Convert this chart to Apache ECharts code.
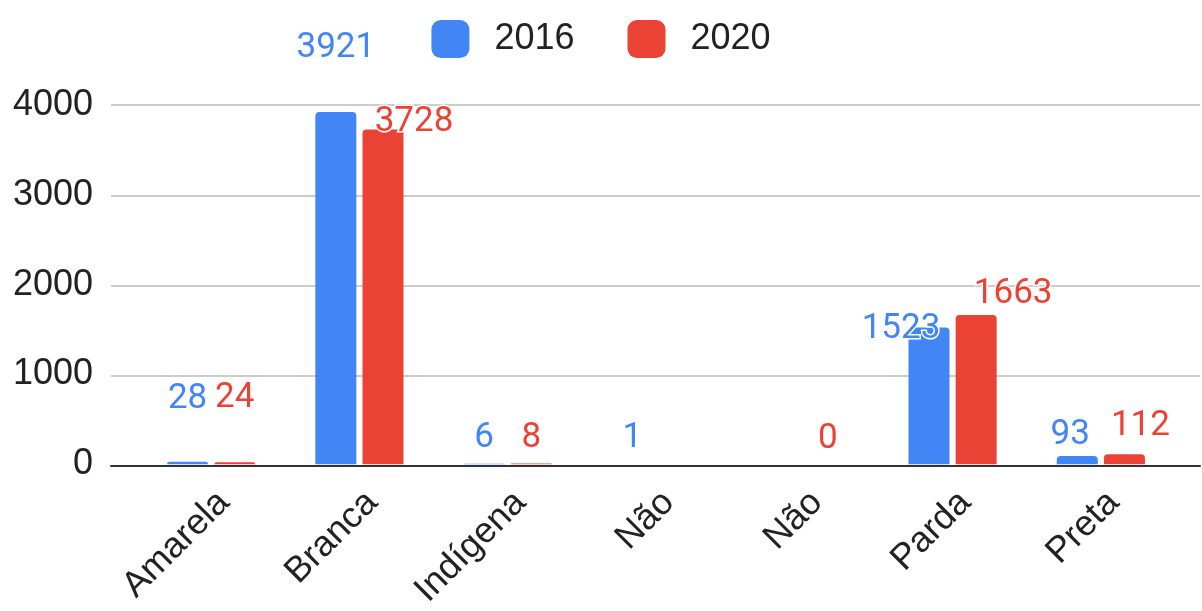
<!DOCTYPE html>
<html>
<head>
<meta charset="utf-8">
<script src="https://cdn.jsdelivr.net/npm/echarts@6/dist/echarts.min.js"></script>
<style>
  html, body { margin: 0; padding: 0; background: #fff; }
  #chart { width: 1202px; height: 611px; }
</style>
</head>
<body>
<div id="chart"></div>
<script>
   // ======数据======
   var categories = ['Amarela', 'Branca', 'Indígena', 'Não', 'Não', 'Parda', 'Preta'];
   var values2016 = [28, 3921, 6, 1, null, 1523, 93];
   var values2020 = [24, 3728, 8, null, 0, 1663, 112];
   var yTicks = [0, 1000, 2000, 3000, 4000];

   // 标签微调 (Google图表的标签避让)
   var nudge2016 = { 0: [0, -37], 1: [0, -38], 5: [-28, 27], 6: [-7, 5] };
   var nudge2020 = { 0: [0, -38], 1: [31, 18], 5: [37, 5], 6: [16, -3] };

   var blue = '#4285F4';
   var red = '#EA4335';
   var axisFont = '"Liberation Sans", Arial, sans-serif';
   var labelFont = 'Roboto, Arial, sans-serif';

   function buildData(values, nudge) {
      var out = [];
      for (var i = 0; i < values.length; i++) {
         var item = { value: values[i] === null ? '-' : values[i] };
         if (nudge[i]) {
            item.label = { offset: nudge[i] };
         }
         out.push(item);
      }
      return out;
   }

   function barLabel(color) {
      return {
         show: true,
         position: 'top',
         distance: 8,
         color: color,
         fontSize: 35,
         fontFamily: labelFont,
         textBorderColor: '#fff',
         textBorderWidth: 3
      };
   }

   var chart = echarts.init(document.getElementById('chart'));
   var option = {
      animation: false,
      color: [blue, red],
      legend: {
         top: 15,
         left: 'center',
         itemWidth: 38,
         itemHeight: 38,
         itemGap: 53,
         icon: 'roundRect',
         textStyle: { fontSize: 36, fontFamily: axisFont, color: '#222', padding: [0, 0, 0, 20] },
         data: ['2016', '2020']
      },
      grid: [
         { left: 137, right: 27, top: 105, bottom: 145 },   // 柱子
         { left: 111, right: 2, top: 105, bottom: 145 }     // 网格线
      ],
      xAxis: [
         {
            type: 'category',
            gridIndex: 0,
            data: categories,
            axisLine: { show: false },
            axisTick: { show: false },
            axisLabel: {
               rotate: 45,
               margin: 20,
               align: 'right',
               verticalAlign: 'top',
               fontSize: 36,
               fontFamily: axisFont,
               color: '#222',
               interval: 0
            }
         },
         {
            type: 'value',
            gridIndex: 1,
            min: 0,
            max: 1,
            axisLine: { show: true, lineStyle: { color: '#333', width: 2 } },
            axisTick: { show: false },
            axisLabel: { show: false },
            splitLine: { show: false }
         }
      ],
      yAxis: [
         {
            type: 'value',
            gridIndex: 0,
            min: yTicks[0],
            max: yTicks[yTicks.length - 1],
            interval: 1000,
            axisLine: { show: false },
            axisTick: { show: false },
            splitLine: { show: false },
            axisLabel: {
               margin: 44,
               fontSize: 36,
               fontFamily: axisFont,
               color: '#222',
               formatter: function (v) { return String(v); }
            }
         },
         {
            type: 'value',
            gridIndex: 1,
            min: yTicks[0],
            max: yTicks[yTicks.length - 1],
            interval: 1000,
            axisLine: { show: false },
            axisTick: { show: false },
            axisLabel: { show: false },
            splitLine: { show: true, lineStyle: { color: '#ccc', width: 2 } }
         }
      ],
      series: [
         {
            name: '2016',
            type: 'bar',
            xAxisIndex: 0,
            yAxisIndex: 0,
            barWidth: 41,
            barGap: '15%',
            itemStyle: { borderRadius: [4, 4, 0, 0] },
            label: barLabel(blue),
            data: buildData(values2016, nudge2016)
         },
         {
            name: '2020',
            type: 'bar',
            xAxisIndex: 0,
            yAxisIndex: 0,
            barWidth: 41,
            barGap: '15%',
            itemStyle: { borderRadius: [4, 4, 0, 0] },
            label: barLabel(red),
            data: buildData(values2020, nudge2020)
         }
      ]
   };
   chart.setOption(option);
</script>
</body>
</html>
